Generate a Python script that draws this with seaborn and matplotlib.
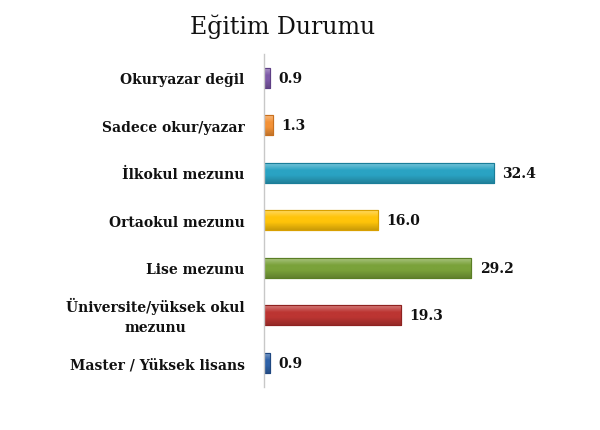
import matplotlib
matplotlib.use("Agg")
import matplotlib.pyplot as plt
import matplotlib.colors as mcolors
import numpy as np
import seaborn as sns
import pandas as pd

categories = ["Okuryazar değil", "Sadece okur/yazar", "İlkokul mezunu",
              "Ortaokul mezunu", "Lise mezunu",
              "Üniversite/yüksek okul\nmezunu", "Master / Yüksek lisans"]
values = [0.9, 1.3, 32.4, 16.0, 29.2, 19.3, 0.9]
value_labels = ["0.9", "1.3", "32.4", "16.0", "29.2", "19.3", "0.9"]
colors = ["#7E5AA8", "#F39237", "#2AA3C3", "#FFC40A", "#7AA23A", "#BC3532", "#2F62A8"]
edge_colors = ["#5E3F85", "#C8701F", "#1A7E99", "#D9A000", "#5A7E25", "#8E2220", "#1F4780"]
title = "Eğitim Durumu"

sns.set_theme(style="white")
plt.rcParams['font.family'] = ['DejaVu Serif']

df = pd.DataFrame({"cat": categories, "val": values})

fig = plt.figure(figsize=(6, 4.31), dpi=100)
ax = fig.add_axes([0.44, 0.1009, 0.4733, 0.7715])
sns.barplot(data=df, y="cat", x="val", hue="cat", palette=colors, legend=False,
            orient="h", width=0.42, ax=ax, saturation=1)

ax.set_xlim(0, 40)
ax.set_ylim(6.5, -0.5)

# subtle 3D-like vertical gradient inside each bar
for p, c, ec in zip(ax.patches, colors, edge_colors):
    p.set_edgecolor(ec)
    p.set_linewidth(0.8)
    x0, y0 = p.get_x(), p.get_y()
    w, h = p.get_width(), p.get_height()
    base = np.array(mcolors.to_rgb(c))
    light = base + (1 - base) * 0.35
    dark = base * 0.8
    t = np.linspace(0, 1, 32)[:, None]
    top_part = np.clip(1 - t / 0.35, 0, 1)
    grad = base[None, :] * (1 - top_part) + light[None, :] * top_part
    bot_part = np.clip((t - 0.6) / 0.4, 0, 1)
    grad = grad * (1 - bot_part) + dark[None, :] * bot_part
    img = np.repeat(grad[:, None, :], 2, axis=1)
    im = ax.imshow(img, extent=(x0, x0 + w, y0 + h, y0), aspect="auto",
                   interpolation="bilinear", zorder=p.get_zorder() + 0.1, origin="upper")
    im.set_clip_path(p)
    edge = plt.Rectangle((x0, y0), w, h, fill=False, edgecolor=ec, linewidth=0.8,
                         zorder=p.get_zorder() + 0.2)
    ax.add_patch(edge)

ax.set_xlim(0, 40)
ax.set_ylim(6.5, -0.5)
ax.set_xlabel("")
ax.set_ylabel("")
ax.set_xticks([])
for s in ["top", "right", "bottom"]:
    ax.spines[s].set_visible(False)
ax.spines["left"].set_color("#C8C8C8")
ax.spines["left"].set_linewidth(1.0)
ax.tick_params(axis="y", length=0, pad=14)
for lbl in ax.get_yticklabels():
    lbl.set_fontweight("bold")
    lbl.set_fontsize(10)
    lbl.set_multialignment("center")
    lbl.set_linespacing(1.5)
    lbl.set_color("#111111")
    if "\n" in lbl.get_text():
        lbl.set_verticalalignment("center")

for i, (v, t) in enumerate(zip(values, value_labels)):
    ax.annotate(t, xy=(v, i), xytext=(6, 0), textcoords="offset points",
                va="center", ha="left", fontsize=10, fontweight="bold", color="#111111")

fig.text(283 / 600, 1 - 27 / 431, title, ha="center", va="center", fontsize=17, color="#111111")

fig.savefig("out.png", dpi=100, facecolor="white")
